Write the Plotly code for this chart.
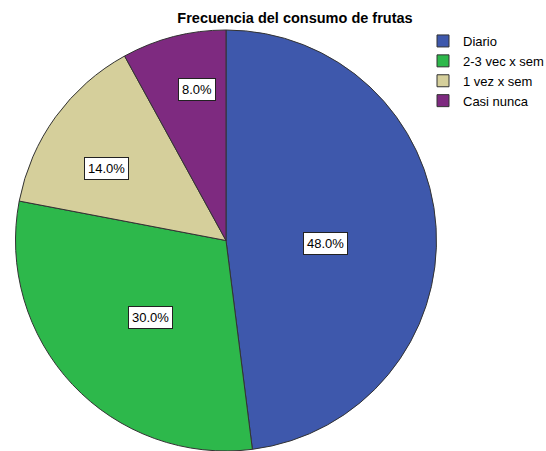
import math
import plotly.graph_objects as go

categories = ["Diario", "2-3 vec x sem", "1 vez x sem", "Casi nunca"]
percentages = [48.0, 30.0, 14.0, 8.0]
colors = ["#3E58AC", "#2DB84B", "#D5CF9B", "#7E2A80"]

W, H = 546, 451
cx_px, cy_px, R = 226, 210, 211  # pie center from left / from bottom, radius (px)

fig = go.Figure(go.Pie(
    labels=categories,
    values=percentages,
    sort=False,
    direction="clockwise",
    rotation=0,
    marker=dict(colors=colors, line=dict(color="#333333", width=1)),
    textinfo="none",
    hoverinfo="label+percent",
    domain=dict(x=[(cx_px - R) / W, (cx_px + R) / W],
                y=[max(0, (cy_px - R) / H), min(1, (cy_px + R) / H)]),
))

# label annotations with white boxes placed near each slice's mid angle
label_radius = [0.47, 0.505, 0.666, 0.736]
label_angle_shift = [4.7, -1.8, -4.4, 3.5]  # degrees
total = sum(percentages)
cum = 0.0
for v, rf, da in zip(percentages, label_radius, label_angle_shift):
    mid = (cum + v / 2) / total * 2 * math.pi + math.radians(da)
    cum += v
    x = (cx_px + rf * R * math.sin(mid)) / W
    y = (209 + rf * R * math.cos(mid)) / H
    fig.add_annotation(
        x=x, y=y, xref="paper", yref="paper",
        xanchor="center", yanchor="middle",
        text=f"{v:.1f}%", showarrow=False,
        font=dict(family="Liberation Sans, Arial", size=13, color="black"),
        bgcolor="white", bordercolor="#222222", borderwidth=1, borderpad=3,
    )

fig.update_layout(
    width=W, height=H,
    margin=dict(l=0, r=0, t=0, b=0, autoexpand=False),
    paper_bgcolor="white",
    plot_bgcolor="white",
    title=dict(text="<b>Frecuencia del consumo de frutas</b>",
               x=295 / W, xanchor="center", y=1 - 18 / H, yanchor="middle",
               yref="container", xref="paper",
               font=dict(family="Liberation Sans, Arial", size=14.5, color="black")),
    legend=dict(x=423 / W, y=1 - 26 / H, xanchor="left", yanchor="top",
                font=dict(family="Liberation Sans, Arial", size=13, color="black"),
                bgcolor="rgba(0,0,0,0)", itemwidth=30, tracegroupgap=0),
    showlegend=True,
)

fig.write_html("out.html", config={"displayModeBar": False},
               post_script="document.body.style.margin='0';")
